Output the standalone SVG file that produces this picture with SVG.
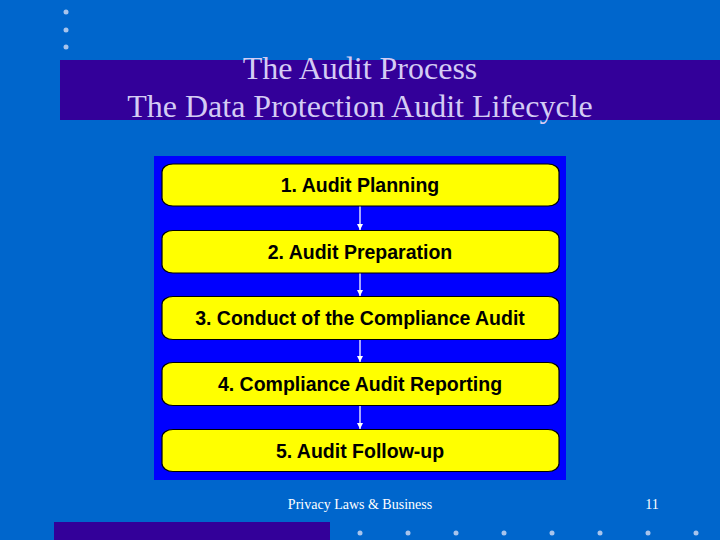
<svg xmlns="http://www.w3.org/2000/svg" width="720" height="540" viewBox="0 0 720 540">
<defs>
<style>
.bul{fill:#a8c4ec}
.box{fill:#ffff00;stroke:#000;stroke-width:1.2}
.lbl{font-family:"Liberation Sans",Arial,sans-serif;font-weight:bold;font-size:19.5px;fill:#000;text-anchor:middle}
.ttl{font-family:"Liberation Serif","Times New Roman",serif;font-size:32px;fill:#d4ccf4;text-anchor:middle}
.ftr{font-family:"Liberation Serif","Times New Roman",serif;font-size:14px;fill:#ffffff}
.con{stroke:#ffffff;stroke-width:1.3;fill:none}
</style>
<marker id="ah" viewBox="0 0 10 10" refX="10" refY="5" markerWidth="6" markerHeight="8" markerUnits="userSpaceOnUse" orient="auto">
<path d="M0,0 L10,5 L0,10 z" fill="#ffffff"/>
</marker>
</defs>
<rect width="720" height="540" fill="#0066cc"/>
<g id="top-bullets">
<circle class="bul" cx="66" cy="12" r="2.5"/>
<circle class="bul" cx="66" cy="30" r="2.5"/>
<circle class="bul" cx="66" cy="47" r="2.5"/>
</g>
<g id="title">
<rect x="60" y="60" width="660" height="60" fill="#330099"/>
<text class="ttl" x="360" y="79">The Audit Process</text>
<text class="ttl" x="360" y="117">The Data Protection Audit Lifecycle</text>
</g>
<rect id="panel" x="154" y="156" width="412" height="324" fill="#0000ff"/>
<g id="connectors">
<line class="con" x1="360" y1="206" x2="360" y2="230" marker-end="url(#ah)"/>
<line class="con" x1="360" y1="273" x2="360" y2="296" marker-end="url(#ah)"/>
<line class="con" x1="360" y1="340" x2="360" y2="362" marker-end="url(#ah)"/>
<line class="con" x1="360" y1="406" x2="360" y2="429" marker-end="url(#ah)"/>
</g>
<g id="step1">
<rect class="box" x="162" y="164" width="397" height="42" rx="11" ry="8"/>
<text class="lbl" x="360" y="192">1. Audit Planning</text>
</g>
<g id="step2">
<rect class="box" x="162" y="230.5" width="397" height="42.5" rx="11" ry="8"/>
<text class="lbl" x="360" y="258.5">2. Audit Preparation</text>
</g>
<g id="step3">
<rect class="box" x="162" y="296.5" width="397" height="43" rx="11" ry="8"/>
<text class="lbl" x="360" y="325">3. Conduct of the Compliance Audit</text>
</g>
<g id="step4">
<rect class="box" x="162" y="362.5" width="397" height="43" rx="11" ry="8"/>
<text class="lbl" x="360" y="391">4. Compliance Audit Reporting</text>
</g>
<g id="step5">
<rect class="box" x="162" y="429.5" width="397" height="42" rx="11" ry="8"/>
<text class="lbl" x="360" y="457.5">5. Audit Follow-up</text>
</g>
<g id="footer">
<text class="ftr" x="360" y="509" text-anchor="middle">Privacy Laws &amp; Business</text>
<text class="ftr" x="652" y="509" text-anchor="middle">11</text>
<rect x="54" y="522" width="276" height="18" fill="#330099"/>
<circle class="bul" cx="360" cy="533" r="2.5"/>
<circle class="bul" cx="408" cy="533" r="2.5"/>
<circle class="bul" cx="456" cy="533" r="2.5"/>
<circle class="bul" cx="504" cy="533" r="2.5"/>
<circle class="bul" cx="552" cy="533" r="2.5"/>
<circle class="bul" cx="600" cy="533" r="2.5"/>
<circle class="bul" cx="648" cy="533" r="2.5"/>
<circle class="bul" cx="696" cy="533" r="2.5"/>
</g>
</svg>
